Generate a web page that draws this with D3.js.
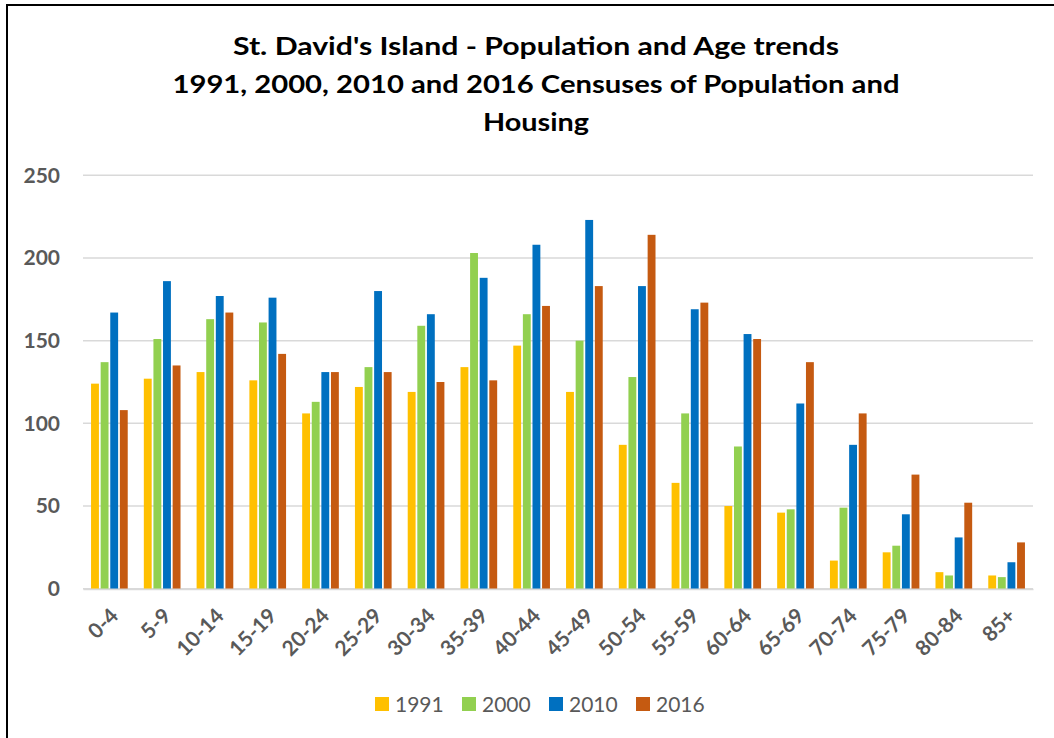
<!DOCTYPE html>
<html>
<head>
<meta charset="utf-8">
<script src="https://cdn.jsdelivr.net/npm/d3@7"></script>
<style>
	body { margin: 0; background: #fff; }
	svg { display: block; font-family: Lato, 'Open Sans', sans-serif; }
</style>
</head>
<body>
<svg id="chart" width="1054" height="738"></svg>
<script>
	const ageGroups = ['0-4', '5-9', '10-14', '15-19', '20-24', '25-29', '30-34', '35-39', '40-44',
		'45-49', '50-54', '55-59', '60-64', '65-69', '70-74', '75-79', '80-84', '85+']
	const years = ['1991', '2000', '2010', '2016']
	const pop1991 = [124, 127, 131, 126, 106, 122, 119, 134, 147, 119, 87, 64, 50, 46, 17, 22, 10, 8]
	const pop2000 = [137, 151, 163, 161, 113, 134, 159, 203, 166, 150, 128, 106, 86, 48, 49, 26, 8, 7]
	const pop2010 = [167, 186, 177, 176, 131, 180, 166, 188, 208, 223, 183, 169, 154, 112, 87, 45, 31, 16]
	const pop2016 = [108, 135, 167, 142, 131, 131, 125, 126, 171, 183, 214, 173, 151, 137, 106, 69, 52, 28]
	const yTicks = [0, 50, 100, 150, 200, 250]
	const titleLines = [
		'St. David\'s Island - Population and Age trends',
		'1991, 2000, 2010 and 2016 Censuses of Population and',
		'Housing',
	]
	// widths the title lines take in the picture
	const titleWidths = [606, 727, 106]
	const colors = ['#FFC000', '#92D050', '#0070C0', '#C55A11']

	const series = [pop1991, pop2000, pop2010, pop2016]
	const svg = d3.select('#chart')

	// frame lines (left and top only, as in the picture)
	svg.append('path')
		.attr('d', 'M7,738V5H1054')
		.attr('fill', 'none').attr('stroke', '#000').attr('stroke-width', 2)

	svg.append('g').selectAll('text')
		.data(titleLines)
		.enter()
		.append('text')
		.attr('x', 536)
		.attr('y', (_, i) => 55 + i * 38)
		.attr('text-anchor', 'middle')
		.attr('font-size', 25)
		.attr('font-weight', 'bold')
		.attr('fill', '#000')
		.attr('textLength', (_, i) => titleWidths[i])
		.attr('lengthAdjust', 'spacingAndGlyphs')
		.text((d) => d)

	const x = d3.scaleBand().domain(ageGroups).range([83, 1033]).paddingInner(0.305).paddingOuter(0.1525)
	const xs = d3.scaleBand().domain(years).range([0, x.bandwidth()]).paddingInner(0.18)
	const y = d3.scaleLinear().domain([0, 250]).range([588.7, 175.3])

	const grid = svg.append('g')
	grid.selectAll('line')
		.data(yTicks)
		.enter()
		.append('line')
		.attr('x1', 83).attr('x2', 1033)
		.attr('y1', (d) => y(d)).attr('y2', (d) => y(d))
		.attr('stroke', '#D9D9D9').attr('stroke-width', 1.5)

	const yAxis = svg.append('g')
		.attr('transform', 'translate(60,0)')
		.call(d3.axisLeft(y).tickValues(yTicks).tickSize(0).tickPadding(0))
	yAxis.select('.domain').remove()
	yAxis.selectAll('text')
		.attr('font-family', 'Lato, sans-serif')
		.attr('font-size', 21)
		.attr('font-weight', 'bold')
		.attr('fill', '#595959')

	const groups = svg.append('g').selectAll('g')
		.data(ageGroups)
		.enter()
		.append('g')
		.attr('transform', (d) => `translate(${x(d)},0)`)

	groups.selectAll('rect')
		.data((_, i) => years.map((yr, k) => ({ yr, k, v: series[k][i] })))
		.enter()
		.append('rect')
		.attr('x', (d) => xs(d.yr))
		.attr('width', xs.bandwidth())
		.attr('y', (d) => y(d.v))
		.attr('height', (d) => y(0) - y(d.v))
		.attr('fill', (d) => colors[d.k])

	const xAxis = svg.append('g')
		.attr('transform', 'translate(0,589)')
		.call(d3.axisBottom(x).tickSize(0).tickPadding(0))
	xAxis.select('.domain').attr('stroke', '#D9D9D9').attr('stroke-width', 1.5)
	xAxis.selectAll('text')
		.attr('font-family', 'Lato, sans-serif')
		.attr('font-size', 21)
		.attr('font-weight', 'bold')
		.attr('fill', '#595959')
		.attr('text-anchor', 'end')
		.attr('dy', '0.35em')
		.attr('y', 0)
		.attr('transform', 'translate(5,23) rotate(-45)')

	const legend = svg.append('g')
	const legendX = [375, 462, 549, 636]
	const items = legend.selectAll('g')
		.data(years)
		.enter()
		.append('g')
		.attr('transform', (_, i) => `translate(${legendX[i]},697)`)
	items.append('rect')
		.attr('width', 14).attr('height', 14)
		.attr('fill', (_, i) => colors[i])
	items.append('text')
		.attr('x', 20)
		.attr('y', 15)
		.attr('font-size', 21)
		.attr('fill', '#595959')
		.text((d) => d)
</script>
</body>
</html>
